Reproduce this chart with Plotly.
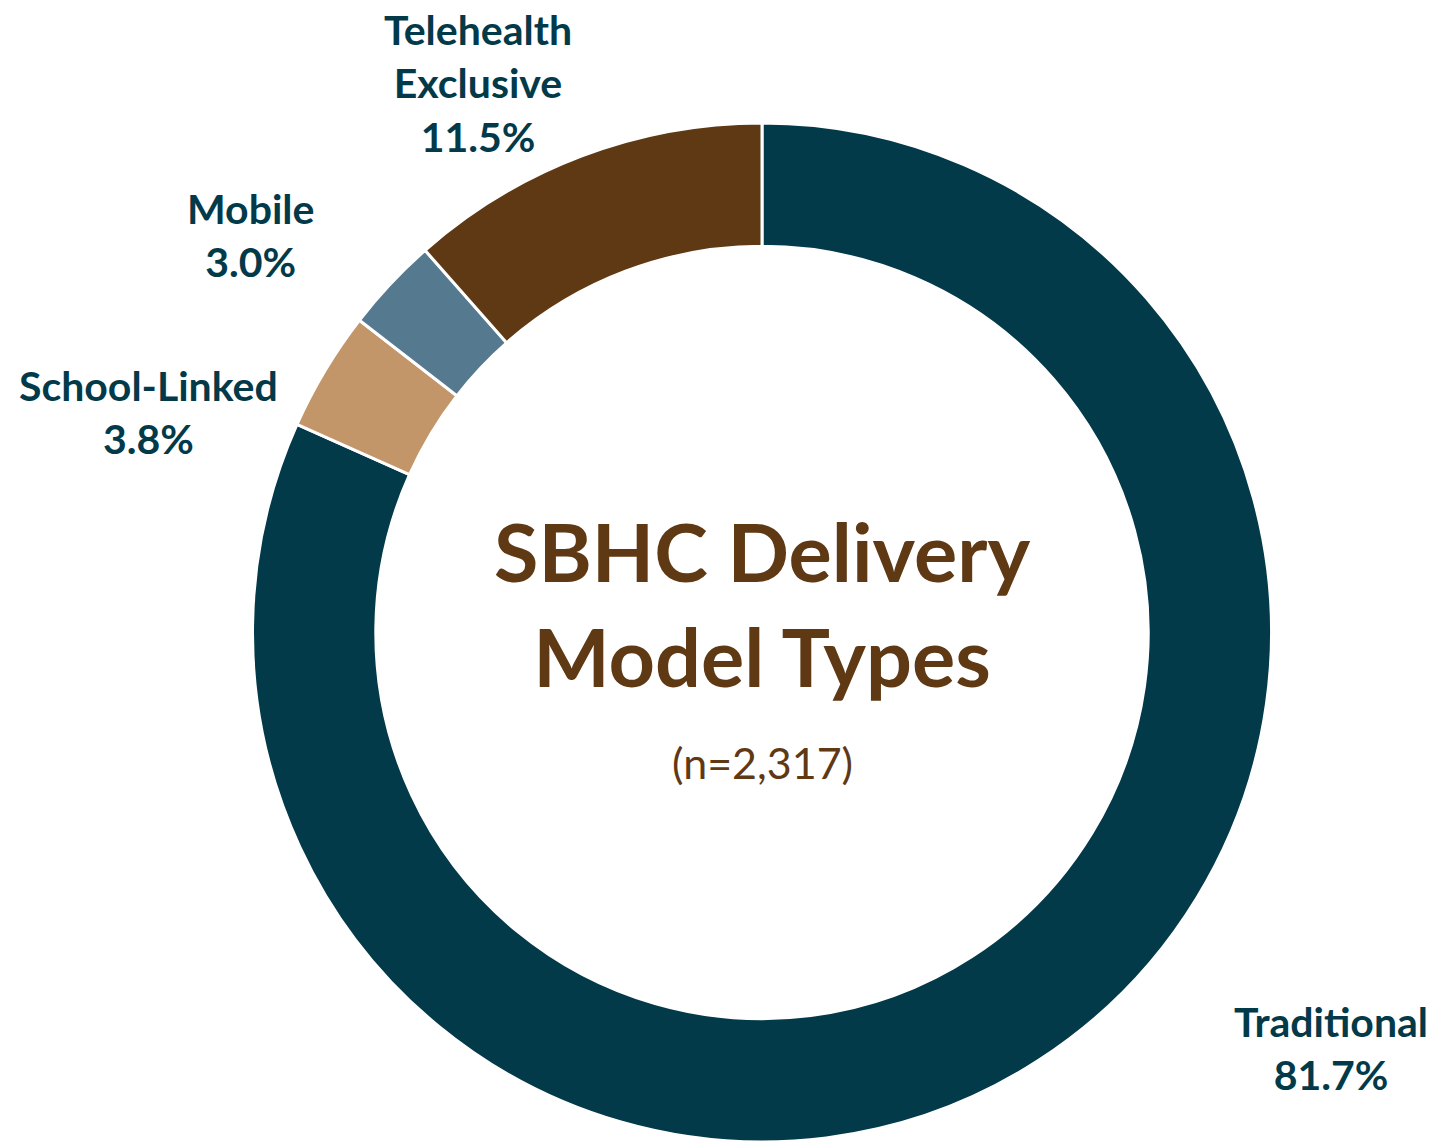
import plotly.graph_objects as go

# Data
categories = ["Traditional", "School-Linked", "Mobile", "Telehealth<br>Exclusive"]
percent = [81.7, 3.8, 3.0, 11.5]
colors = ["#033A4A", "#C29669", "#557A90", "#5E3914"]

title_lines = ["SBHC Delivery", "Model Types"]
subtitle = "(n=2,317)"

# label placement (pixel centers in a 1441x1142 canvas) - style only
W, H = 1441, 1142
label_pos = [(1331, 1048), (148, 412), (250, 235), (478, 83)]

FONT = "Lato, 'Source Sans Pro', 'Open Sans', sans-serif"
LABEL_COLOR = "#033A4A"
TITLE_COLOR = "#5E3914"

fig = go.Figure()
fig.add_trace(go.Pie(
    labels=categories,
    values=percent,
    marker=dict(colors=colors, line=dict(color="white", width=3)),
    hole=0.758,
    sort=False,
    direction="clockwise",
    rotation=0,
    textinfo="none",
    hoverinfo="label+percent",
    showlegend=False,
    domain=dict(x=[251 / W, 1273 / W], y=[0, 1 - 123 / H]),
))

annotations = []
for name, val, (px, py) in zip(categories, percent, label_pos):
    annotations.append(dict(
        x=px / W, y=1 - py / H, xref="paper", yref="paper",
        text=f"<b>{name}<br>{val:.1f}%</b>",
        showarrow=False, xanchor="center", yanchor="middle",
        font=dict(family=FONT, size=41, color=LABEL_COLOR),
    ))

annotations.append(dict(
    x=762 / W, y=1 - 603 / H, xref="paper", yref="paper",
    text="<b>" + "<br>".join(title_lines) + "</b>",
    showarrow=False, xanchor="center", yanchor="middle",
    font=dict(family=FONT, size=81, color=TITLE_COLOR),
))
annotations.append(dict(
    x=762 / W, y=1 - 762 / H, xref="paper", yref="paper",
    text=subtitle,
    showarrow=False, xanchor="center", yanchor="middle",
    font=dict(family=FONT, size=43, color=TITLE_COLOR),
))

fig.update_layout(
    width=W, height=H,
    margin=dict(l=0, r=0, t=0, b=0),
    paper_bgcolor="white",
    plot_bgcolor="white",
    annotations=annotations,
)

fig.write_html(
    "out.html",
    config={"displayModeBar": False},
    post_script="document.body.style.margin='0';document.body.style.overflow='hidden';",
)
